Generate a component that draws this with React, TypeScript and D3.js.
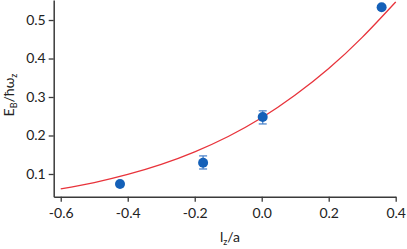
import { useEffect, useRef } from "react";
import * as d3 from "d3";

// measured points with error bars
const pointX = [-0.423, -0.175, 0.003, 0.358];
const pointY = [0.074, 0.129, 0.248, 0.533];
const errLow = [0.074, 0.113, 0.23, 0.533];
const errHigh = [0.074, 0.147, 0.264, 0.533];

// red fit curve
const fitX = [-0.6, -0.5, -0.4, -0.3, -0.2, -0.1, 0, 0.1, 0.2, 0.3, 0.4];
const fitY = [0.0611, 0.0778, 0.0989, 0.125, 0.1576, 0.1975, 0.246, 0.305, 0.374, 0.455, 0.547];

const xTicks = [-0.6, -0.4, -0.2, 0.0, 0.2, 0.4];
const yTicks = [0.1, 0.2, 0.3, 0.4, 0.5];

const W = 407;
const H = 249;

const App = () => {
  const svgRef = useRef<SVGSVGElement | null>(null);

  useEffect(() => {
    if (!svgRef.current) return;
    const svg = d3.select(svgRef.current);
    svg.selectAll("*").remove();

    const x = d3.scaleLinear().domain([-0.621, 0.4]).range([53.7, 395.7]);
    const y = d3.scaleLinear().domain([0.041, 0.552]).range([196.7, 0]);
    const font = "Lato, 'Open Sans', sans-serif";
    const axisColor = "#3a3a3a";

    const xAxis = svg
      .append("g")
      .attr("transform", `translate(0,${y(0.041)})`)
      .call(
        d3.axisBottom(x).tickValues(xTicks).tickFormat(d3.format(".1f")).tickSize(5).tickSizeOuter(0)
      );
    const yAxis = svg
      .append("g")
      .attr("transform", `translate(${x(-0.621)},0)`)
      .call(
        d3.axisLeft(y).tickValues(yTicks).tickFormat(d3.format(".1f")).tickSize(5).tickSizeOuter(0)
      );

    [xAxis, yAxis].forEach((g) => {
      g.select(".domain").attr("stroke", axisColor).attr("stroke-width", 1.5);
      g.selectAll(".tick line").attr("stroke", axisColor).attr("stroke-width", 1.3);
      g.selectAll("text")
        .attr("fill", "#222")
        .style("font-size", "14px")
        .style("font-family", font);
    });
    xAxis.selectAll("text").attr("dy", "0.95em").text((d: any) => d3.format(".1f")(d).replace("−", "-"));
    yAxis.selectAll("text").attr("x", -8).text((d: any) => d3.format(".1f")(d));

    // fit curve
    const line = d3
      .line<number>()
      .x((_, i) => x(fitX[i]))
      .y((d) => y(d))
      .curve(d3.curveNatural);
    svg
      .append("path")
      .datum(fitY)
      .attr("d", line)
      .attr("fill", "none")
      .attr("stroke", "#e8333b")
      .attr("stroke-width", 1.3);

    // error bars
    const eb = svg.append("g").attr("stroke", "#4f86cc").attr("stroke-width", 1.3);
    pointX.forEach((px, i) => {
      if (errHigh[i] === errLow[i]) return;
      eb.append("line").attr("x1", x(px)).attr("x2", x(px)).attr("y1", y(errLow[i])).attr("y2", y(errHigh[i]));
      [errLow[i], errHigh[i]].forEach((v) =>
        eb.append("line").attr("x1", x(px) - 4).attr("x2", x(px) + 4).attr("y1", y(v)).attr("y2", y(v))
      );
    });

    svg
      .append("g")
      .selectAll("circle")
      .data(pointX)
      .enter()
      .append("circle")
      .attr("cx", (d) => x(d))
      .attr("cy", (_, i) => y(pointY[i]))
      .attr("r", 5)
      .attr("fill", "#1460b8");

    // axis titles
    const xl = svg
      .append("text")
      .attr("x", 230)
      .attr("y", 242)
      .attr("text-anchor", "middle")
      .attr("fill", "#222")
      .style("font-family", font)
      .style("font-size", "14px");
    xl.append("tspan").text("l");
    xl.append("tspan").attr("dy", 3).style("font-size", "9px").text("z");
    xl.append("tspan").attr("dy", -3).text("/a");

    const yl = svg
      .append("text")
      .attr("transform", "translate(14,95) rotate(-90)")
      .attr("text-anchor", "middle")
      .attr("fill", "#222")
      .style("font-family", font)
      .style("font-size", "14px");
    yl.append("tspan").text("E");
    yl.append("tspan").attr("dy", 3).style("font-size", "9px").text("B");
    yl.append("tspan").attr("dy", -3).text("/ħω");
    yl.append("tspan").attr("dy", 3).style("font-size", "9px").text("z");
  }, []);

  return (
    <div style={{ position: "absolute", left: 0, top: 0, width: W, height: H, background: "#fff" }}>
      <svg ref={svgRef} width={W} height={H}></svg>
    </div>
  );
};

export default App;
